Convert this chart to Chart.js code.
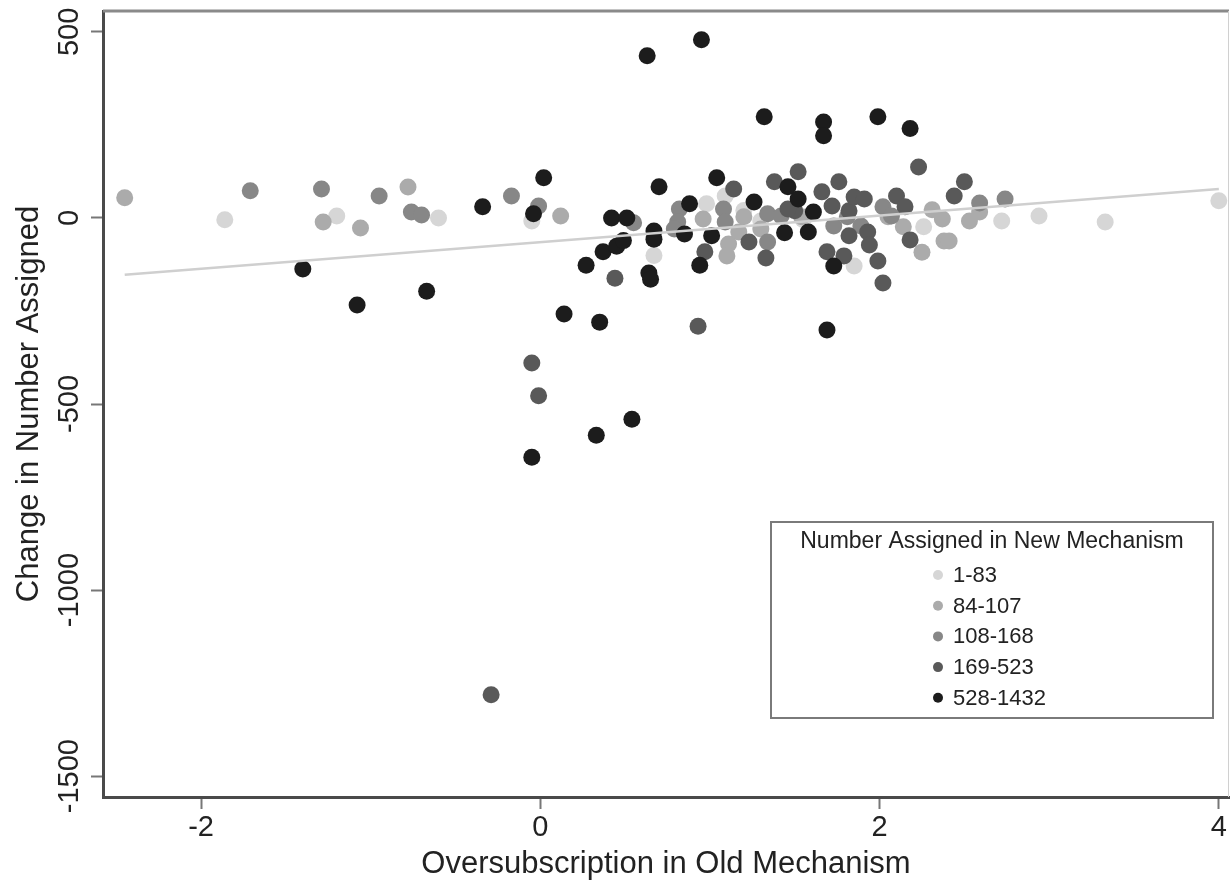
<!DOCTYPE html>
<html lang="en">
<head>
<meta charset="utf-8">
<title>Change in Number Assigned vs Oversubscription in Old Mechanism</title>
<script src="https://cdn.jsdelivr.net/npm/chart.js@4.4.1/dist/chart.umd.min.js"></script>
<style>
  html, body { margin: 0; padding: 0; background: #fff; }
  #grafica { display: block; }
</style>
</head>
<body>
<canvas id="grafica" width="1230" height="888"></canvas>
<script>
// Datos: [sobresuscripción, cambio en número asignado]
const grupos = ["1-83", "84-107", "108-168", "169-523", "528-1432"];
const colores = ["#d6d6d6", "#ababab", "#878787", "#595959", "#1c1c1c"];

const puntos_1_83 = [
  [-1.86, -5], [-1.20, 5], [-0.60, 0], [-0.05, -8], [0.67, -101], [1.09, 59],
  [0.98, 38], [1.30, -8], [1.55, -5], [1.20, 20], [1.85, -129], [2.26, -24],
  [2.72, -8], [2.94, 5], [3.33, -11], [4.0, 46]
];
const puntos_84_107 = [
  [-2.45, 54], [-1.28, -11], [-1.06, -27], [-0.78, 83], [0.12, 5], [0.96, -3],
  [1.11, -70], [1.10, -102], [1.20, 3], [1.30, -30], [1.17, -38], [1.54, 3],
  [2.05, 3], [2.14, -24], [2.31, 22], [2.37, -3], [2.38, -62], [2.41, -62],
  [2.25, -92], [2.53, -8], [2.59, 16]
];
const puntos_108_168 = [
  [-1.71, 73], [-1.29, 78], [-0.95, 59], [-0.76, 16], [-0.70, 8], [-0.17, 59],
  [-0.01, 32], [0.55, -13], [0.82, 24], [0.81, -11], [0.79, -30], [1.08, 24],
  [1.09, -11], [1.34, -65], [1.34, 11], [1.42, 5], [1.81, 3], [1.73, -22],
  [1.89, -22], [2.02, 30], [2.07, 5], [2.59, 40], [2.74, 51]
];
const puntos_169_523 = [
  [-0.29, -1281], [-0.05, -390], [-0.01, -478], [0.44, -162], [0.93, -291],
  [0.97, -91], [1.14, 78], [1.23, -65], [1.33, -108], [1.38, 97], [1.52, 124],
  [1.50, 19], [1.46, 24], [1.66, 70], [1.72, 32], [1.69, -91], [1.76, 97],
  [1.79, -102], [1.82, 19], [1.82, -48], [1.85, 56], [1.91, 51], [1.93, -38],
  [1.94, -73], [1.99, -116], [2.02, -175], [2.10, 59], [2.15, 30], [2.18, -59],
  [2.23, 137], [2.44, 59], [2.50, 97]
];
const puntos_528_1432 = [
  [-1.40, -137], [-1.08, -234], [-0.67, -197], [-0.34, 30], [-0.04, 11],
  [0.02, 108], [-0.05, -643], [0.14, -258], [0.27, -127], [0.33, -584],
  [0.35, -280], [0.37, -91], [0.45, -76], [0.49, -61], [0.42, 0], [0.51, 0],
  [0.54, -541], [0.63, 436], [0.64, -148], [0.65, -165], [0.67, -35],
  [0.67, -57], [0.70, 84], [0.85, -43], [0.88, 38], [0.94, -127], [0.95, 479],
  [1.01, -48], [1.04, 108], [1.26, 43], [1.32, 272], [1.44, -40], [1.46, 84],
  [1.52, 51], [1.58, -38], [1.61, 16], [1.67, 258], [1.67, 221], [1.69, -301],
  [1.73, -129], [1.99, 272], [2.18, 240]
];
const puntosPorGrupo = [puntos_1_83, puntos_84_107, puntos_108_168, puntos_169_523, puntos_528_1432];

// Recta de ajuste (extremos)
const ajusteX = [-2.45, 4.0];
const ajusteY = [-153, 78];

// Marcas de los ejes
const ticksX = [-2, 0, 2, 4];
const ticksY = [-1500, -1000, -500, 0, 500];

const fuente = '"Liberation Sans", Arial, Helvetica, sans-serif';
Chart.defaults.font.family = fuente;
Chart.defaults.color = "#222";

// Borde superior/derecho del área y leyenda dentro de la gráfica
const marcoYLeyenda = {
  id: "marcoYLeyenda",
  afterDraw(chart) {
    const { ctx, chartArea: a } = chart;
    ctx.save();
    ctx.strokeStyle = "#8a8a8a";
    ctx.lineWidth = 3;
    ctx.beginPath();
    ctx.moveTo(a.left, a.top);
    ctx.lineTo(a.right, a.top);
    ctx.stroke();
    ctx.strokeStyle = "#d0d0d0";
    ctx.lineWidth = 1;
    ctx.beginPath();
    ctx.moveTo(a.right - 0.5, a.top);
    ctx.lineTo(a.right - 0.5, a.bottom);
    ctx.stroke();

    // caja de la leyenda
    const caja = { x: a.right - 458, y: a.bottom - 275, w: 442, h: 196 };
    ctx.fillStyle = "#fff";
    ctx.fillRect(caja.x, caja.y, caja.w, caja.h);
    ctx.strokeStyle = "#7a7a7a";
    ctx.lineWidth = 2;
    ctx.strokeRect(caja.x, caja.y, caja.w, caja.h);

    ctx.fillStyle = "#222";
    ctx.textBaseline = "middle";
    ctx.textAlign = "center";
    ctx.font = "23px " + fuente;
    ctx.fillText("Number Assigned in New Mechanism", caja.x + caja.w / 2, caja.y + 20);

    ctx.font = "22px " + fuente;
    ctx.textAlign = "left";
    const series = chart.data.datasets.filter(d => grupos.includes(d.label));
    series.forEach((d, i) => {
      const y = caja.y + 53 + i * 30.7;
      ctx.fillStyle = d.backgroundColor;
      ctx.beginPath();
      ctx.arc(caja.x + 167, y, 5, 0, Math.PI * 2);
      ctx.fill();
      ctx.fillStyle = "#222";
      ctx.fillText(d.label, caja.x + 182, y + 1);
    });
    ctx.restore();
  }
};

const datasets = grupos.map((g, i) => ({
  type: "scatter",
  label: g,
  data: puntosPorGrupo[i].map(([x, y]) => ({ x, y })),
  backgroundColor: colores[i],
  borderWidth: 0,
  pointRadius: 8.5,
  order: grupos.length - i
}));

datasets.push({
  type: "line",
  label: "Fitted values",
  data: ajusteX.map((x, i) => ({ x, y: ajusteY[i] })),
  borderColor: "#cfcfcf",
  borderWidth: 2.5,
  pointRadius: 0,
  fill: false,
  order: 0
});

// Sin relleno automático de Chart.js para que el área quede fija
const sinRelleno = s => {
  s.paddingLeft = 0;
  s.paddingRight = 0;
  s.paddingTop = 0;
  s.paddingBottom = 0;
};

const ctx = document.getElementById("grafica").getContext("2d");
new Chart(ctx, {
  type: "scatter",
  data: { datasets },
  plugins: [marcoYLeyenda],
  options: {
    responsive: false,
    animation: false,
    devicePixelRatio: 1,
    events: [],
    layout: { autoPadding: false, padding: { top: 11, right: 1, bottom: 0, left: 0 } },
    plugins: {
      legend: { display: false },
      tooltip: { enabled: false }
    },
    scales: {
      x: {
        type: "linear",
        position: "bottom",
        min: -2.578,
        max: 4.06,
        afterBuildTicks: s => { s.ticks = ticksX.map(v => ({ value: v })); },
        afterFit: s => { s.height = 91; sinRelleno(s); },
        ticks: { font: { size: 29 }, color: "#222", padding: 2, maxRotation: 0, callback: v => String(v) },
        grid: { drawOnChartArea: false, drawTicks: true, tickLength: 12, tickColor: "#777", tickWidth: 2 },
        border: { color: "#4a4a4a", width: 3 },
        title: {
          display: true,
          text: "Oversubscription in Old Mechanism",
          font: { size: 31 },
          color: "#222",
          padding: { top: 0, bottom: 5 }
        }
      },
      y: {
        type: "linear",
        position: "left",
        min: -1556,
        max: 556,
        afterBuildTicks: s => { s.ticks = ticksY.map(v => ({ value: v })); },
        afterFit: s => { s.width = 103; sinRelleno(s); },
        ticks: {
          font: { size: 29 },
          color: "#222",
          minRotation: 90,
          maxRotation: 90,
          crossAlign: "center",
          padding: -16,
          callback: v => String(v)
        },
        grid: { drawOnChartArea: false, drawTicks: true, tickLength: 12, tickColor: "#777", tickWidth: 2 },
        border: { color: "#4a4a4a", width: 3 },
        title: {
          display: true,
          text: "Change in Number Assigned",
          font: { size: 31 },
          color: "#222",
          padding: { top: 11, bottom: 0 }
        }
      }
    }
  }
});
</script>
</body>
</html>
